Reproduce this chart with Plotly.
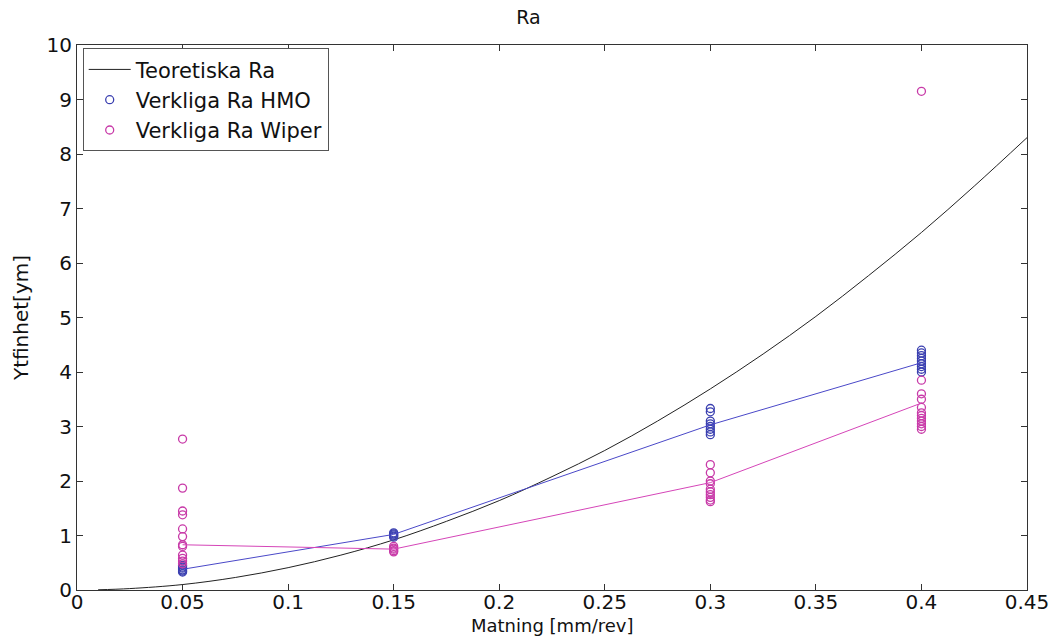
import plotly.graph_objects as go

# Theoretical curve
theo_x = [0.01, 0.025, 0.05, 0.075, 0.1, 0.125, 0.15, 0.175, 0.2, 0.225, 0.25,
          0.275, 0.3, 0.325, 0.35, 0.375, 0.4, 0.425, 0.45]
theo_y = [0.004, 0.026, 0.10, 0.23, 0.41, 0.64, 0.92, 1.26, 1.64, 2.08, 2.56,
          3.10, 3.69, 4.33, 5.02, 5.77, 6.56, 7.41, 8.30]

# Measured HMO points
hmo_x = [0.05] * 6 + [0.15] * 5 + [0.3] * 8 + [0.4] * 9
hmo_y = [0.45, 0.42, 0.40, 0.37, 0.35, 0.33,
         1.05, 1.03, 1.01, 0.99, 0.97,
         3.33, 3.27, 3.10, 3.05, 3.00, 2.95, 2.90, 2.85,
         4.40, 4.35, 4.30, 4.25, 4.20, 4.15, 4.10, 4.05, 4.00]

# Measured Wiper points
wip_x = [0.05] * 12 + [0.15] * 5 + [0.3] * 10 + [0.4] * 12
wip_y = [2.77, 1.87, 1.45, 1.38, 1.12, 0.98, 0.83, 0.80, 0.64, 0.58, 0.53, 0.48,
         0.80, 0.77, 0.75, 0.72, 0.70,
         2.30, 2.15, 2.00, 1.95, 1.85, 1.80, 1.75, 1.70, 1.65, 1.62,
         9.15, 3.85, 3.60, 3.50, 3.35, 3.25, 3.20, 3.15, 3.10, 3.05, 3.00, 2.95]

# Mean lines
mean_x = [0.05, 0.15, 0.3, 0.4]
hmo_mean = [0.38, 1.02, 3.03, 4.17]
wip_mean = [0.83, 0.75, 1.97, 3.43]

x_ticks = [0, 0.05, 0.1, 0.15, 0.2, 0.25, 0.3, 0.35, 0.4, 0.45]
x_tick_labels = ["0", "0.05", "0.1", "0.15", "0.2", "0.25", "0.3", "0.35", "0.4", "0.45"]
y_ticks = list(range(0, 11))

blue = "#3a3fb0"
mag = "#c83aa8"

fig = go.Figure()
fig.add_trace(go.Scatter(x=theo_x, y=theo_y, mode="lines", name="Teoretiska Ra",
                         line=dict(color="#222222", width=1), line_shape="spline"))
fig.add_trace(go.Scatter(x=hmo_x, y=hmo_y, mode="markers", name="Verkliga Ra HMO",
                         marker=dict(symbol="circle-open", size=8, color=blue,
                                     line=dict(width=1.3, color=blue))))
fig.add_trace(go.Scatter(x=wip_x, y=wip_y, mode="markers", name="Verkliga Ra Wiper",
                         marker=dict(symbol="circle-open", size=8, color=mag,
                                     line=dict(width=1.3, color=mag))))
fig.add_trace(go.Scatter(x=mean_x, y=hmo_mean, mode="lines", showlegend=False,
                         line=dict(color="#4a48c8", width=1)))
fig.add_trace(go.Scatter(x=mean_x, y=wip_mean, mode="lines", showlegend=False,
                         line=dict(color="#d545b8", width=1)))

axis_common = dict(showgrid=False, zeroline=False, showline=True, linecolor="#333333",
                   linewidth=1, mirror="allticks", ticks="inside", ticklen=6,
                   tickcolor="#333333", tickfont=dict(size=20, color="#111111"),
                   automargin=False)

fig.update_layout(
    width=1057, height=636,
    margin=dict(l=77, r=30, t=45, b=46),
    paper_bgcolor="white", plot_bgcolor="white",
    font=dict(family="DejaVu Sans, Liberation Sans, Arial, sans-serif", color="#111111"),
    title=dict(text="Ra", x=0.5, xanchor="center", y=0.972, yanchor="middle",
               font=dict(size=19)),
    xaxis=dict(range=[0, 0.45], tickvals=x_ticks, ticktext=x_tick_labels,
               ticklabelstandoff=-6, **axis_common),
    yaxis=dict(range=[0, 10], tickvals=y_ticks,
               title=dict(text="Ytfinhet[ym]", font=dict(size=20), standoff=12),
               **axis_common),
    legend=dict(x=0.006, y=0.994, xanchor="left", yanchor="top",
                bordercolor="#555555", borderwidth=1, bgcolor="white",
                font=dict(size=21), tracegroupgap=0, itemwidth=42),
    annotations=[dict(text="Matning [mm/rev]", xref="paper", yref="paper",
                      x=0.5, y=-46 / 545, xanchor="center", yanchor="bottom",
                      showarrow=False, font=dict(size=18), yshift=-2)],
    showlegend=True,
)

fig.write_html("out.html")
